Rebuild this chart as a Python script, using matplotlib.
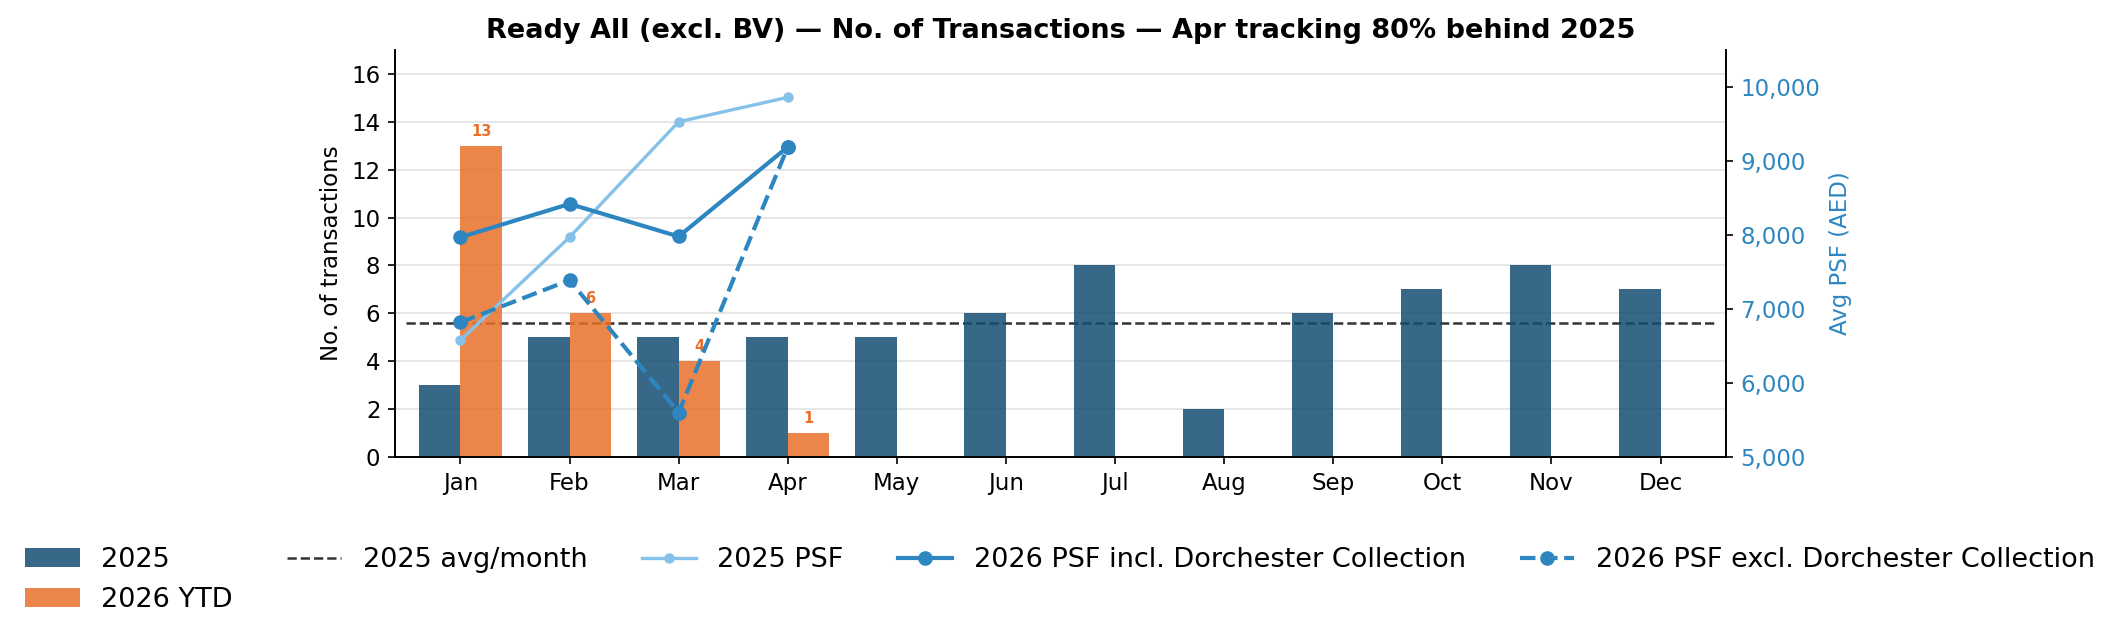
import numpy as np
import matplotlib
matplotlib.use("Agg")
import matplotlib.pyplot as plt
from matplotlib.ticker import FuncFormatter

months = ['Jan', 'Feb', 'Mar', 'Apr', 'May', 'Jun',
          'Jul', 'Aug', 'Sep', 'Oct', 'Nov', 'Dec']
tx_2025 = [3, 5, 5, 5, 5, 6, 8, 2, 6, 7, 8, 7]
tx_2026 = [13, 6, 4, 1]
psf_2025 = [6580, 7970, 9530, 9860]
psf_2026_incl = [7970, 8420, 7980, 9190]
psf_2026_excl = [6820, 7390, 5600, 9190]

avg_2025 = np.mean(tx_2025)
last = len(tx_2026) - 1
behind = round((1 - tx_2026[last] / tx_2025[last]) * 100)

c_2025 = '#144D73'
c_2026 = '#E8702A'
c_psf = '#2E86C1'
c_psf25 = '#85C1E9'

fig = plt.figure(figsize=(2121 / 150, 638 / 150), dpi=150)
ax = fig.add_axes([395 / 2121, 1 - 457 / 638, (1726 - 395) / 2121, (457 - 50) / 638])

x = np.arange(len(months))
x26 = np.arange(len(tx_2026))
w = 0.38

ax.grid(axis='y', color='#e3e3e3', linewidth=0.8, zorder=0)
ax.set_axisbelow(True)
ax.hlines(avg_2025, -0.5, 11.5, colors='#333333', linestyles='--',
          linewidth=1.2, zorder=1, label='2025 avg/month')
ax.bar(x - w / 2, tx_2025, w, color=c_2025, alpha=0.85, zorder=2, label='2025')
ax.bar(x26 + w / 2, tx_2026, w, color=c_2026, alpha=0.85, zorder=2, label='2026 YTD')
for xi, v in zip(x26, tx_2026):
    ax.text(xi + w / 2, v + 0.3, str(v), ha='center', va='bottom',
            fontsize=7, fontweight='bold', color=c_2026, zorder=3)

ax.set_xlim(-0.6, 11.6)
ax.set_ylim(0, 17)
ax.set_yticks(range(0, 17, 2))
ax.set_xticks(x)
ax.set_xticklabels(months)
ax.tick_params(labelsize=11)
ax.set_ylabel('No. of transactions', fontsize=11)
ax.spines['top'].set_visible(False)

ax2 = ax.twinx()
ax2.plot(x26, psf_2025, color=c_psf25, linewidth=1.6, marker='o',
         markersize=4, label='2025 PSF')
ax2.plot(x26, psf_2026_incl, color=c_psf, linewidth=2.0, marker='o',
         markersize=6, label='2026 PSF incl. Dorchester Collection')
ax2.plot(x26, psf_2026_excl, color=c_psf, linewidth=2.0, linestyle='--',
         marker='o', markersize=6, label='2026 PSF excl. Dorchester Collection')
ax2.set_ylim(5000, 10500)
ax2.set_yticks(range(5000, 10001, 1000))
ax2.yaxis.set_major_formatter(FuncFormatter(lambda v, p: f'{v:,.0f}'))
ax2.tick_params(axis='y', labelcolor=c_psf, labelsize=11)
ax2.set_ylabel('Avg PSF (AED)', color=c_psf, fontsize=11)
ax2.spines['top'].set_visible(False)

ax.set_title(f'Ready All (excl. BV) \u2014 No. of Transactions \u2014 '
             f'{months[last]} tracking {behind}% behind 2025',
             fontsize=13, fontweight='bold', pad=6)

h1, l1 = ax.get_legend_handles_labels()
h2, l2 = ax2.get_legend_handles_labels()
order = [1, 2, 0]
handles = [h1[i] for i in order] + h2
labels = [l1[i] for i in order] + l2
fig.legend(handles, labels, loc='center', bbox_to_anchor=(0.4998, 1 - 580 / 638),
           ncol=5, frameon=False, fontsize=13)

fig.savefig('out.png', dpi=150)
